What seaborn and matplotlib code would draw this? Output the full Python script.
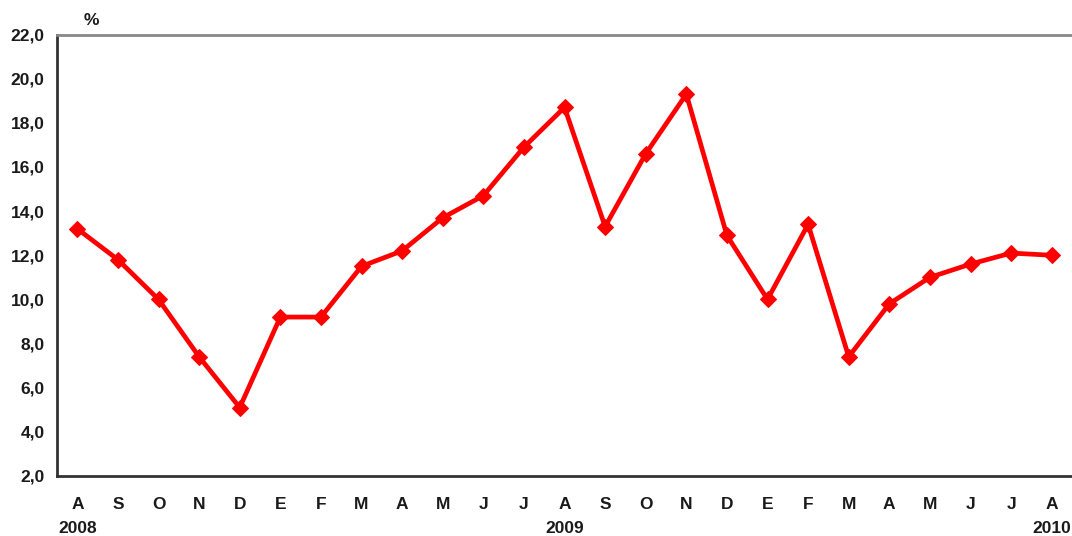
'''
Monthly rate chart, Aug 2008 - Aug 2010
'''
import numpy as np
import pandas as pd
import matplotlib
matplotlib.use('Agg')
import matplotlib.pyplot as plt
import seaborn as sns

# Month labels (Spanish initials) and values
months = ['A', 'S', 'O', 'N', 'D', 'E', 'F', 'M', 'A', 'M', 'J', 'J', 'A',
          'S', 'O', 'N', 'D', 'E', 'F', 'M', 'A', 'M', 'J', 'J', 'A']
values = [13.2, 11.8, 10.0, 7.4, 5.1, 9.2, 9.2, 11.5, 12.2, 13.7, 14.7, 16.9, 18.7,
          13.3, 16.6, 19.3, 12.9, 10.0, 13.4, 7.4, 9.8, 11.0, 11.6, 12.1, 12.0]
years = {0: '2008', 12: '2009', 24: '2010'}

sns.set_style('white')
plt.rcParams['font.family'] = ['Liberation Sans Narrow', 'Liberation Sans', 'DejaVu Sans']
plt.rcParams['font.weight'] = 'bold'

df = pd.DataFrame({'pos': np.arange(len(values)), 'value': values})

fig = plt.figure(figsize=(10.72, 5.36), dpi=100)
ax = fig.add_axes([0.0532, 0.112, 0.9468, 0.8235])

sns.lineplot(data=df, x='pos', y='value', ax=ax, color='#ff0000',
             linewidth=3.4, marker='D', markersize=8, markeredgecolor='#ff0000')

ax.set_xlim(-0.5, len(values) - 0.5)
ax.set_ylim(2, 22)
ax.set_yticks(np.arange(2, 23, 2))
ax.set_yticklabels([f'{v:.1f}'.replace('.', ',') for v in np.arange(2, 23, 2)],
                   fontsize=12.5, fontweight='bold', color='#1a1a1a')

# tick marks between months, labels centered on months
ax.set_xticks(np.arange(-0.5, len(values) - 1, 1))
ax.set_xticklabels([])
ax.set_xticks(np.arange(len(values)), minor=True)
ax.set_xticklabels(months, minor=True, fontsize=12.5, fontweight='bold', color='#1a1a1a')
ax.tick_params(axis='x', which='minor', length=0, pad=15)
ax.tick_params(axis='x', which='major', direction='out', length=6, width=1.2, color='#222222')
ax.tick_params(axis='y', direction='out', length=5, width=1.2, color='#222222', pad=4)

for i, yr in years.items():
    ax.text(i, -0.12, yr, transform=ax.get_xaxis_transform(), ha='center', va='center',
            fontsize=12.5, fontweight='bold', color='#1a1a1a')

ax.text(0.35, 1.015, '%', transform=ax.get_xaxis_transform(), ha='center', va='bottom',
        fontsize=12.5, fontweight='bold', color='#1a1a1a')

ax.set_xlabel('')
ax.set_ylabel('')
ax.spines['left'].set_color('#333333')
ax.spines['left'].set_linewidth(2)
ax.spines['bottom'].set_color('#333333')
ax.spines['bottom'].set_linewidth(2)
ax.spines['top'].set_color('#888888')
ax.spines['top'].set_linewidth(2)
ax.spines['right'].set_visible(False)

fig.savefig('out.png', dpi=100)
